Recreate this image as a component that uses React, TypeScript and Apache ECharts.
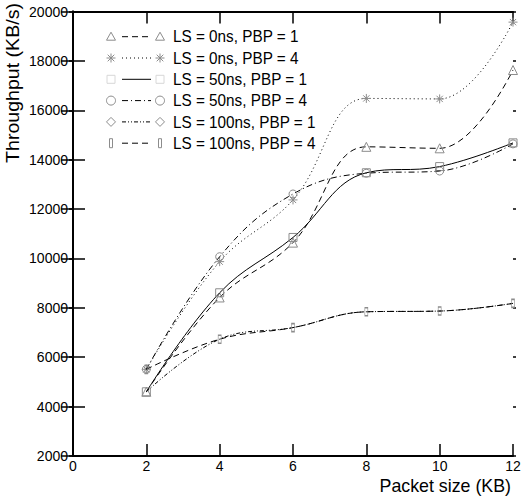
import React, { useEffect, useRef } from "react";
import * as echarts from "echarts";

// ---- data ----
const packetSizes = [2, 4, 6, 8, 10, 12];
const seriesNames = [
  "LS = 0ns, PBP = 1",
  "LS = 0ns, PBP = 4",
  "LS = 50ns, PBP = 1",
  "LS = 50ns, PBP = 4",
  "LS = 100ns, PBP = 1",
  "LS = 100ns, PBP = 4",
];
const ls0pbp1 = [4600, 8420, 10640, 14520, 14460, 17630];
const ls0pbp4 = [5510, 9870, 12370, 16480, 16460, 19570];
const ls50pbp1 = [4600, 8610, 10850, 13470, 13720, 14680];
const ls50pbp4 = [5510, 10070, 12610, 13450, 13540, 14640];
const ls100pbp1 = [4600, 6730, 7200, 7840, 7870, 8180];
const ls100pbp4 = [5510, 6730, 7200, 7840, 7870, 8180];
const yRange = [2000, 20000, 2000]; // min, max, interval
const xRange = [0, 12, 2];
const xAxisTitle = "Packet size (KB)";
const yAxisTitle = "Throughput (KB/s)";

// ---- styles ----
const FONT = "Liberation Sans, Arial, Helvetica, sans-serif";
const MARK = "#8c8c8c";
const ASTERISK = "path://M5,0L5,10M0,5L10,5M1.5,1.5L8.5,8.5M1.5,8.5L8.5,1.5";
const styles = [
  { symbol: "triangle", size: 9, dash: [6, 4], kind: "triangle", show: true },
  { symbol: ASTERISK, size: 9, dash: [1, 3], kind: "asterisk", show: true },
  { symbol: "rect", size: 8, dash: "solid", kind: "square", show: true },
  { symbol: "circle", size: 8, dash: [6, 3, 1, 3], kind: "circle", show: true },
  { symbol: "diamond", size: 8, dash: [4, 2, 1, 2, 1, 2], kind: "diamond", show: false },
  { symbol: "rect", size: [3, 8], dash: [6, 4], kind: "bar", show: true },
];
const allValues = [ls0pbp1, ls0pbp4, ls50pbp1, ls50pbp4, ls100pbp1, ls100pbp4];

function marker(kind: string, cx: number, cy: number, color: string): any {
  const st = { stroke: color, fill: "none", lineWidth: 1 };
  switch (kind) {
    case "triangle":
      return { type: "polygon", shape: { points: [[cx, cy - 4.5], [cx + 4.5, cy + 3.5], [cx - 4.5, cy + 3.5]] }, style: st };
    case "asterisk":
      return {
        type: "group",
        children: [
          { type: "line", shape: { x1: cx - 4.5, y1: cy, x2: cx + 4.5, y2: cy }, style: st },
          { type: "line", shape: { x1: cx, y1: cy - 4.5, x2: cx, y2: cy + 4.5 }, style: st },
          { type: "line", shape: { x1: cx - 3.3, y1: cy - 3.3, x2: cx + 3.3, y2: cy + 3.3 }, style: st },
          { type: "line", shape: { x1: cx - 3.3, y1: cy + 3.3, x2: cx + 3.3, y2: cy - 3.3 }, style: st },
        ],
      };
    case "square":
      return { type: "rect", shape: { x: cx - 4, y: cy - 4, width: 8, height: 8 }, style: { ...st, stroke: "#d8d8d8" } };
    case "circle":
      return { type: "circle", shape: { cx, cy, r: 4.5 }, style: st };
    case "diamond":
      return { type: "polygon", shape: { points: [[cx, cy - 4.5], [cx + 4.5, cy], [cx, cy + 4.5], [cx - 4.5, cy]] }, style: st };
    default:
      return { type: "rect", shape: { x: cx - 1.5, y: cy - 4.5, width: 3, height: 9 }, style: st };
  }
}

export default function App() {
  const ref = useRef<HTMLDivElement>(null);
  useEffect(() => {
    document.body.style.margin = "0";
    if (!ref.current) return;
    const chart = echarts.init(ref.current, undefined, { renderer: "svg" });

    const legendEls: any[] = [];
    seriesNames.forEach((name, i) => {
      const cy = 36.7 + i * 21.3;
      const s = styles[i];
      legendEls.push(marker(s.kind, 111, cy, MARK));
      legendEls.push({
        type: "line",
        shape: { x1: 122, y1: cy, x2: 151, y2: cy },
        style: { stroke: "#000", lineWidth: 1, lineDash: s.dash === "solid" ? null : s.dash },
      });
      legendEls.push(marker(s.kind, 160, cy, MARK));
      legendEls.push({
        type: "text",
        x: 173,
        y: cy,
        scaleY: 1.08,
        style: { text: name, font: `15.3px ${FONT}`, fill: "#000", textVerticalAlign: "middle", textAlign: "left" },
      });
    });

    const axisLine = { show: true, lineStyle: { color: "#000", width: 2 } };
    const tickIn = { show: true, inside: true, length: 12, lineStyle: { color: "#000", width: 1.5 } };
    const label = { color: "#000", fontSize: 14, fontFamily: FONT, formatter: (v: number) => String(v) };

    const option: any = {
      animation: false,
      grid: { left: 73, right: 17, top: 11.5, bottom: 46 },
      xAxis: [
        {
          type: "value", position: "bottom", min: xRange[0], max: xRange[1], interval: xRange[2],
          axisLine, axisTick: tickIn, splitLine: { show: false },
          axisLabel: { ...label, margin: 3 },
          name: xAxisTitle, nameLocation: "end", nameGap: -2,
          nameTextStyle: { color: "#000", fontSize: 17.8, fontFamily: FONT, align: "right", verticalAlign: "top", padding: [21, 0, 0, 0] },
        },
        {
          type: "value", position: "top", min: xRange[0], max: xRange[1], interval: xRange[2],
          axisLine, axisTick: tickIn, splitLine: { show: false }, axisLabel: { show: false },
        },
      ],
      yAxis: [
        {
          type: "value", position: "left", min: yRange[0], max: yRange[1], interval: yRange[2],
          axisLine, axisTick: tickIn, splitLine: { show: false },
          axisLabel: { ...label, margin: 5 },
        },
        {
          type: "value", position: "right", min: yRange[0], max: yRange[1], interval: yRange[2],
          axisLine, axisTick: tickIn, splitLine: { show: false }, axisLabel: { show: false },
        },
        {
          type: "value", position: "left", min: yRange[0], max: yRange[1], interval: yRange[2],
          axisLine: { show: false }, axisTick: { show: true, length: 4, lineStyle: { color: "#000", width: 1.5 } },
          splitLine: { show: false }, axisLabel: { show: false },
        },
        {
          type: "value", position: "right", min: yRange[0], max: yRange[1], interval: yRange[2],
          axisLine: { show: false }, axisTick: { show: true, length: 3, lineStyle: { color: "#000", width: 1.5 } },
          splitLine: { show: false }, axisLabel: { show: false },
        },
      ],
      series: seriesNames.map((name, i) => ({
        name,
        type: "line",
        xAxisIndex: 0,
        yAxisIndex: 0,
        smooth: 0.4,
        data: packetSizes.map((x, j) => [x, allValues[i][j]]),
        symbol: styles[i].symbol,
        symbolSize: styles[i].size,
        showSymbol: styles[i].show,
        showAllSymbol: true,
        lineStyle: { color: "#000", width: 1, type: styles[i].dash },
        itemStyle: { color: "rgba(0,0,0,0)", borderColor: MARK, borderWidth: 1 },
        z: 2 + i,
      })),
      graphic: [
        ...legendEls,
        {
          type: "text",
          x: 13,
          y: 83,
          rotation: Math.PI / 2,
          scaleX: 1.1,
          style: { text: yAxisTitle, font: `17.8px ${FONT}`, fill: "#000", textAlign: "center", textVerticalAlign: "middle" },
        },
      ],
    };
    chart.setOption(option);
    return () => chart.dispose();
  }, []);
  return <div ref={ref} style={{ width: 530, height: 502 }} />;
}
